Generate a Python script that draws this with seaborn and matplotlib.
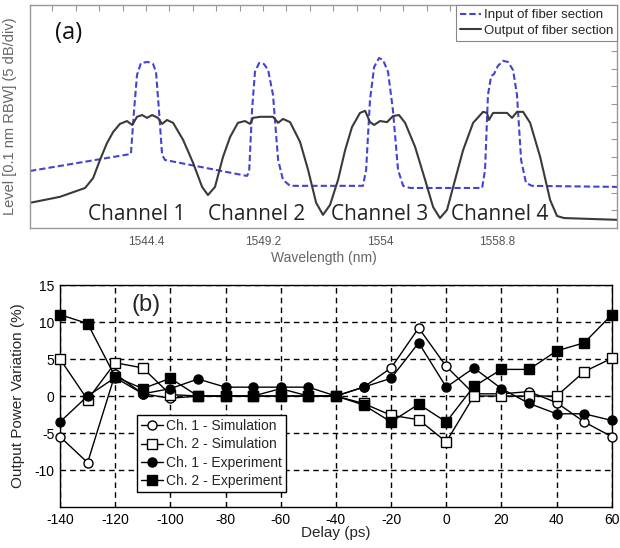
import numpy as np
import matplotlib
matplotlib.use('Agg')
import matplotlib.pyplot as plt
from matplotlib.ticker import FixedLocator, NullFormatter
import seaborn as sns

# ---- panel (a): optical spectrum (wavelength in nm, level in dB, 5 dB/div)
wl_in = [1539.64, 1543.78, 1543.91, 1544.03, 1544.19, 1544.48, 1544.69, 1544.81, 1544.93, 1545.06,
         1545.18, 1548.54, 1548.63, 1548.75, 1548.87, 1549.04, 1549.24, 1549.41, 1549.61, 1549.82,
         1550.02, 1550.31, 1553.30, 1553.43, 1553.59, 1553.76, 1553.96, 1554.12, 1554.33, 1554.53,
         1554.74, 1554.95, 1555.23, 1558.19, 1558.31, 1558.43, 1558.56, 1558.68, 1558.84, 1559.05,
         1559.25, 1559.46, 1559.62, 1559.79, 1559.99, 1560.24, 1563.73]
lvl_in = [16.1, 20.9, 33.3, 43.2, 46.6, 46.9, 46.3, 44.1, 33.3, 20.6,
          19.2, 14.7, 15.8, 33.3, 44.1, 46.6, 46.3, 44.6, 37.6, 19.2,
          13.6, 11.9, 11.9, 16.4, 36.2, 45.5, 48.0, 47.5, 44.1, 33.3,
          16.4, 11.9, 11.3, 11.3, 16.4, 37.6, 42.9, 43.5, 45.8, 47.2,
          46.9, 44.6, 37.6, 19.2, 12.7, 11.9, 11.6]

wl_out = [1539.64, 1540.87, 1541.90, 1542.23, 1542.51, 1542.80, 1543.05, 1543.33, 1543.62, 1543.83,
          1544.03, 1544.24, 1544.44, 1544.65, 1544.89, 1545.06, 1545.26, 1545.51, 1545.92, 1546.33,
          1546.70, 1546.94, 1547.23, 1547.56, 1547.85, 1548.17, 1548.46, 1548.67, 1548.79, 1549.08,
          1549.36, 1549.61, 1549.82, 1550.02, 1550.31, 1550.72, 1551.05, 1551.38, 1551.66, 1551.95,
          1552.28, 1552.57, 1552.85, 1553.18, 1553.39, 1553.59, 1553.76, 1554.00, 1554.29, 1554.53,
          1554.78, 1555.03, 1555.44, 1555.85, 1556.18, 1556.46, 1556.75, 1557.08, 1557.41, 1557.82,
          1558.23, 1558.39, 1558.47, 1558.64, 1558.92, 1559.21, 1559.42, 1559.62, 1559.87, 1560.16,
          1560.57, 1560.98, 1561.26, 1561.55, 1563.73]
lvl_out = [7.1, 8.8, 11.3, 14.1, 19.2, 24.0, 27.1, 29.4, 30.2, 29.1,
           31.4, 31.9, 31.1, 31.9, 31.1, 29.4, 30.5, 29.7, 24.9, 18.4,
           11.6, 9.3, 11.6, 20.1, 25.7, 29.7, 30.2, 29.4, 31.1, 31.4,
           31.4, 31.4, 29.7, 30.8, 29.9, 24.3, 16.4, 7.1, 3.7, 6.5,
           13.6, 22.0, 28.5, 32.5, 33.1, 29.9, 29.1, 30.2, 29.9, 31.6,
           31.9, 29.7, 22.9, 13.6, 5.9, 2.8, 5.1, 13.6, 22.0, 29.7,
           32.8, 32.5, 30.5, 32.5, 32.5, 32.5, 31.1, 32.8, 32.8, 29.7,
           20.1, 7.9, 3.4, 2.8, 2.3]

wl_ticks = [1544.4, 1549.2, 1554, 1558.8]
channel_names = ['Channel 1', 'Channel 2', 'Channel 3', 'Channel 4']
channel_wl = [1544.0, 1548.95, 1554.0, 1558.9]

# ---- panel (b): output power variation vs delay
delay = [-140, -130, -120, -110, -100, -90, -80, -70, -60, -50, -40,
         -30, -20, -10, 0, 10, 20, 30, 40, 50, 60]
ch1_sim = [-5.5, -9.0, 3.0, 0.3, -0.3, 0.0, 0.0, 0.0, 1.0, 0.0, 0.0,
           1.2, 3.8, 9.2, 4.0, 0.3, 0.3, 0.6, -0.9, -3.5, -5.5]
ch2_sim = [5.0, -0.5, 4.5, 3.8, 0.2, 0.0, 0.0, 0.0, 0.0, 0.0, 0.0,
           -1.0, -2.6, -3.2, -6.2, 0.0, 0.0, 0.0, 0.0, 3.3, 5.1]
ch1_exp = [-3.5, 0.0, 2.5, 0.3, 1.0, 2.3, 1.2, 1.2, 1.2, 1.2, 0.0,
           1.2, 2.4, 7.2, 1.2, 3.8, 1.0, -1.0, -2.4, -2.4, -3.3]
ch2_exp = [11.0, 9.8, 2.6, 1.0, 2.4, 0.0, 0.0, 0.0, 0.0, 0.0, 0.0,
           -1.2, -3.5, -1.1, -3.5, 1.3, 3.6, 3.6, 6.1, 7.2, 11.0]

sns.set_style('white')
plt.rcParams['font.family'] = ['Liberation Sans', 'DejaVu Sans']
plt.rcParams['axes.unicode_minus'] = False

fig = plt.figure(figsize=(6.2, 5.48), dpi=100)
ax1 = fig.add_axes([0.0484, 0.584, 0.947, 0.407])
ax2 = fig.add_axes([0.0968, 0.0748, 0.890, 0.405])

# ----- (a)
sns.lineplot(x=wl_in, y=lvl_in, ax=ax1, estimator=None, color='#4343d6', lw=1.5,
             linestyle=(0, (3, 1.5)), label='Input of fiber section')
sns.lineplot(x=wl_out, y=lvl_out, ax=ax1, estimator=None, color='#3a3a3a', lw=1.5,
             label='Output of fiber section')
ax1.set_xlim(1539.64, 1563.73)
ax1.set_ylim(0, 63)
ax1.xaxis.set_major_locator(FixedLocator(wl_ticks))
ax1.set_xticklabels(['1544.4', '1549.2', '1554', '1558.8'])
ax1.xaxis.set_minor_locator(FixedLocator(np.arange(1539.6, 1563.8, 0.96)))
ax1.yaxis.set_major_locator(FixedLocator(range(5, 61, 5)))
ax1.yaxis.set_major_formatter(NullFormatter())
ax1.tick_params(which='both', direction='in', top=True, right=True, length=4,
                color='#999999', labelcolor='#555555', labelsize=8.5, width=0.8, pad=6)
for s in ax1.spines.values():
    s.set_color('#999999')
    s.set_linewidth(1)
ax1.set_xlabel('Wavelength (nm)', fontsize=10, color='#666666')
ax1.xaxis.set_label_coords(0.5, -0.105)
ax1.set_ylabel('Level [0.1 nm RBW] (5 dB/div)', fontsize=10.5, color='#666666')
ax1.yaxis.set_label_coords(-0.022, 0.5)
for name, wl in zip(channel_names, channel_wl):
    ax1.text(wl, 3.7, name, ha='center', va='center', fontsize=15,
             family=['Open Sans', 'DejaVu Sans'], color='#222222')
ax1.text(0.065, 0.874, '(a)', transform=ax1.transAxes, ha='center', va='center',
         fontsize=17, family=['Open Sans', 'DejaVu Sans'], color='#111111')
leg1 = ax1.legend(loc='upper right', bbox_to_anchor=(1, 1), borderaxespad=0,
                  fancybox=False, edgecolor='#888888', framealpha=1, fontsize=9.5,
                  handlelength=1.6, handletextpad=0.2, borderpad=0.3, labelspacing=0.25)
leg1.get_frame().set_linewidth(0.8)

# ----- (b)
series = [
    ('Ch. 1 - Simulation', ch1_sim, 'o', 'white'),
    ('Ch. 2 - Simulation', ch2_sim, 's', 'white'),
    ('Ch. 1 - Experiment', ch1_exp, 'o', 'black'),
    ('Ch. 2 - Experiment', ch2_exp, 's', 'black'),
]
for label, vals, mk, fc in series:
    sns.lineplot(x=delay, y=vals, ax=ax2, estimator=None, color='black', lw=1,
                 marker=mk, markersize=6.5, markerfacecolor=fc, markeredgecolor='black',
                 markeredgewidth=1, label=label, clip_on=False, zorder=3)

ax2.set_xlim(-140, 60)
ax2.set_ylim(-15, 15)
ax2.set_xticks([-140, -120, -100, -80, -60, -40, -20, 0, 20, 40, 60])
ax2.set_yticks([-10, -5, 0, 5, 10, 15])
ax2.grid(True, color='black', linestyle=(0, (4, 3)), lw=1)
ax2.set_axisbelow(True)
ax2.tick_params(length=0, labelsize=10, colors='black', pad=4)
for s in ax2.spines.values():
    s.set_color('black')
    s.set_linewidth(1)
ax2.set_xlabel('Delay (ps)', fontsize=11)
ax2.xaxis.set_label_coords(0.5, -0.085)
ax2.set_ylabel('Output Power Variation (%)', fontsize=11)
ax2.yaxis.set_label_coords(-0.064, 0.5)
ax2.text(0.156, 0.91, '(b)', transform=ax2.transAxes, ha='center', va='center', fontsize=17)
leg2 = ax2.legend(loc='lower left', bbox_to_anchor=(0.139, 0.068), borderaxespad=0,
                  fancybox=False, edgecolor='black', framealpha=1, fontsize=10,
                  handlelength=1.6, handletextpad=0.2, borderpad=0.3, labelspacing=0.3)
leg2.get_frame().set_linewidth(1)

fig.savefig('out.png', dpi=100)
